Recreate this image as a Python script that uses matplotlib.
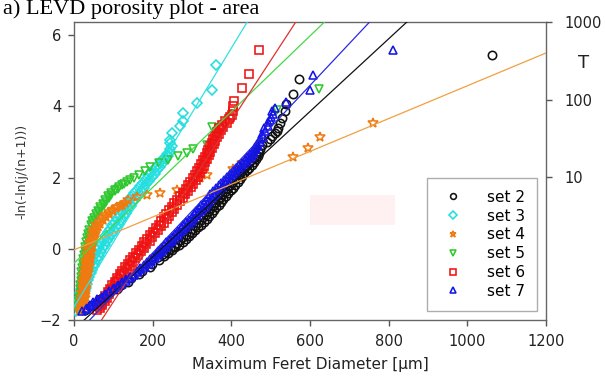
import numpy as np
import matplotlib
matplotlib.use("Agg")
import matplotlib.pyplot as plt
from matplotlib.patches import Rectangle

# ---- data (Gumbel plot: points + fitted line per set) ----
labels = ["set 2", "set 3", "set 4", "set 5", "set 6", "set 7"]

# (x, y) points
set2_pts = [(28, -1.72), (40, -1.62), (55, -1.52), (66, -1.42), (82, -1.32), (92, -1.22),
            (110, -1.12), (120, -1.02), (138, -0.92), (146, -0.82), (166, -0.72), (172, -0.62),
            (192, -0.52), (198, -0.42), (216, -0.32), (214, -0.24), (228, -0.20), (226, -0.16),
            (238, -0.12), (234, -0.08), (248, -0.04), (244, 0.0), (258, 0.04), (253, 0.08),
            (266, 0.12), (262, 0.16), (276, 0.20), (270, 0.24), (284, 0.28), (278, 0.32),
            (292, 0.36), (286, 0.40), (300, 0.44), (294, 0.48), (308, 0.52), (301, 0.56),
            (315, 0.60), (308, 0.64), (323, 0.68), (315, 0.72), (330, 0.76), (322, 0.80),
            (337, 0.84), (329, 0.88), (343, 0.92), (335, 0.96), (350, 1.00), (341, 1.04),
            (356, 1.08), (347, 1.12), (362, 1.16), (353, 1.20), (368, 1.24), (359, 1.28),
            (374, 1.32), (365, 1.36), (380, 1.40), (371, 1.44), (386, 1.48), (377, 1.52),
            (392, 1.56), (383, 1.60), (398, 1.64), (389, 1.68), (404, 1.72), (395, 1.76),
            (410, 1.80), (401, 1.84), (416, 1.88), (407, 1.92), (421, 1.96), (413, 2.00),
            (427, 2.04), (419, 2.08), (433, 2.12), (425, 2.16), (440, 2.20), (431, 2.24),
            (446, 2.28), (437, 2.32), (452, 2.36), (444, 2.40), (458, 2.44), (450, 2.48),
            (463, 2.52), (457, 2.56), (467, 2.60), (463, 2.64), (470, 2.68), (468, 2.74),
            (473, 2.80), (478, 2.92), (490, 3.0), (498, 3.08), (503, 3.16), (510, 3.25),
            (516, 3.3), (519, 3.4), (524, 3.52), (529, 3.67), (536, 3.87), (539, 4.07),
            (557, 4.36), (572, 4.76), (1063, 5.44)]

set3_pts = [(6, -1.74), (14, -1.69), (9, -1.64), (17, -1.59), (10, -1.54), (19, -1.49),
            (12, -1.44), (22, -1.39), (14, -1.34), (24, -1.29), (16, -1.24), (27, -1.19),
            (18, -1.14), (30, -1.09), (21, -1.04), (32, -0.99), (24, -0.94), (35, -0.89),
            (27, -0.84), (38, -0.79), (30, -0.74), (42, -0.69), (34, -0.64), (46, -0.59),
            (37, -0.54), (50, -0.49), (41, -0.44), (54, -0.39), (45, -0.34), (58, -0.29),
            (49, -0.24), (63, -0.19), (54, -0.14), (68, -0.09), (59, -0.04), (73, 0.01),
            (64, 0.06), (78, 0.11), (69, 0.16), (84, 0.21), (75, 0.26), (90, 0.31), (80, 0.36),
            (96, 0.41), (86, 0.46), (102, 0.51), (91, 0.56), (107, 0.61), (97, 0.66),
            (114, 0.71), (104, 0.76), (120, 0.81), (110, 0.86), (126, 0.91), (116, 0.96),
            (132, 1.01), (122, 1.06), (138, 1.11), (128, 1.16), (144, 1.21), (134, 1.26),
            (150, 1.31), (140, 1.36), (156, 1.41), (146, 1.46), (163, 1.51), (153, 1.56),
            (170, 1.61), (161, 1.66), (177, 1.71), (168, 1.76), (184, 1.81), (175, 1.86),
            (191, 1.91), (182, 1.96), (198, 2.01), (189, 2.06), (205, 2.11), (197, 2.16),
            (212, 2.21), (205, 2.26), (219, 2.31), (213, 2.36), (226, 2.41), (220, 2.46),
            (233, 2.51), (228, 2.56), (240, 2.61), (236, 2.66), (245, 2.72), (243, 2.80),
            (248, 2.88), (244, 2.97), (244, 3.06), (249, 3.25), (270, 3.45), (277, 3.6),
            (277, 3.81), (312, 4.1), (351, 4.46), (360, 5.16)]

set4_pts = [(16, -1.74), (22, -1.69), (16, -1.64), (24, -1.59), (18, -1.54), (25, -1.49),
            (19, -1.44), (27, -1.39), (20, -1.34), (28, -1.29), (21, -1.24), (29, -1.19),
            (22, -1.14), (30, -1.09), (23, -1.04), (31, -0.99), (24, -0.94), (32, -0.89),
            (25, -0.84), (33, -0.79), (26, -0.74), (35, -0.69), (28, -0.64), (36, -0.59),
            (29, -0.54), (37, -0.49), (30, -0.44), (38, -0.39), (31, -0.34), (40, -0.29),
            (33, -0.24), (41, -0.19), (34, -0.14), (43, -0.09), (36, -0.04), (44, 0.01),
            (38, 0.06), (46, 0.11), (40, 0.16), (48, 0.21), (42, 0.26), (50, 0.31), (45, 0.36),
            (53, 0.41), (48, 0.46), (57, 0.51), (52, 0.56), (62, 0.61), (57, 0.66), (67, 0.71),
            (63, 0.76), (74, 0.81), (70, 0.86), (82, 0.90), (78, 0.94), (90, 0.98), (88, 1.02),
            (99, 1.06), (97, 1.10), (108, 1.14), (110, 1.18), (118, 1.21), (122, 1.24),
            (130, 1.30), (138, 1.37), (160, 1.45), (185, 1.51), (219, 1.58), (261, 1.65),
            (299, 1.84), (320, 1.98), (337, 2.07), (405, 2.23), (426, 2.4), (557, 2.58),
            (595, 2.83), (626, 3.14), (760, 3.52)]

set5_pts = [(10, -1.74), (15, -1.68), (11, -1.62), (16, -1.56), (12, -1.50), (17, -1.44),
            (13, -1.38), (18, -1.32), (14, -1.26), (19, -1.20), (15, -1.14), (20, -1.08),
            (16, -1.02), (21, -0.96), (17, -0.90), (22, -0.84), (18, -0.78), (23, -0.72),
            (19, -0.66), (25, -0.60), (21, -0.54), (26, -0.48), (22, -0.42), (28, -0.36),
            (24, -0.30), (30, -0.24), (26, -0.18), (31, -0.12), (27, -0.06), (33, 0.0),
            (29, 0.06), (35, 0.12), (31, 0.18), (37, 0.24), (33, 0.30), (39, 0.36), (36, 0.42),
            (42, 0.48), (39, 0.54), (45, 0.60), (42, 0.66), (49, 0.72), (46, 0.77), (53, 0.82),
            (51, 0.87), (58, 0.92), (56, 0.97), (63, 1.02), (61, 1.07), (69, 1.12), (67, 1.17),
            (75, 1.22), (73, 1.27), (81, 1.32), (79, 1.37), (88, 1.42), (86, 1.47), (95, 1.52),
            (94, 1.57), (103, 1.61), (104, 1.66), (112, 1.69), (115, 1.74), (122, 1.78),
            (127, 1.83), (135, 1.88), (142, 1.94), (152, 2.0), (165, 2.08), (180, 2.18),
            (193, 2.3), (215, 2.4), (240, 2.5), (265, 2.6), (287, 2.69), (303, 2.8), (338, 2.92),
            (351, 3.42), (516, 3.9), (623, 4.49)]

set6_pts = [(58, -1.72), (66, -1.67), (64, -1.62), (72, -1.57), (70, -1.52), (78, -1.47),
            (75, -1.42), (83, -1.37), (80, -1.32), (89, -1.27), (86, -1.22), (95, -1.17),
            (91, -1.12), (101, -1.07), (97, -1.02), (106, -0.97), (103, -0.92), (113, -0.87),
            (109, -0.82), (120, -0.77), (116, -0.72), (128, -0.67), (123, -0.62), (135, -0.57),
            (130, -0.52), (142, -0.47), (137, -0.42), (148, -0.37), (143, -0.32), (155, -0.27),
            (151, -0.22), (162, -0.17), (158, -0.12), (170, -0.07), (165, -0.02), (177, 0.03),
            (172, 0.08), (184, 0.13), (179, 0.18), (192, 0.23), (186, 0.28), (199, 0.33),
            (193, 0.38), (207, 0.43), (200, 0.48), (214, 0.53), (208, 0.58), (221, 0.63),
            (215, 0.68), (228, 0.73), (222, 0.78), (236, 0.83), (229, 0.88), (242, 0.93),
            (235, 0.98), (249, 1.03), (241, 1.08), (255, 1.13), (248, 1.18), (262, 1.23),
            (255, 1.28), (269, 1.33), (262, 1.38), (276, 1.43), (270, 1.48), (283, 1.53),
            (277, 1.58), (290, 1.63), (284, 1.68), (297, 1.73), (290, 1.78), (303, 1.83),
            (296, 1.88), (309, 1.93), (302, 1.98), (315, 2.03), (308, 2.08), (320, 2.13),
            (313, 2.18), (325, 2.23), (318, 2.28), (330, 2.33), (323, 2.38), (334, 2.43),
            (328, 2.48), (339, 2.53), (333, 2.58), (343, 2.63), (337, 2.68), (347, 2.73),
            (341, 2.78), (351, 2.83), (345, 2.88), (355, 2.93), (350, 2.98), (359, 3.03),
            (354, 3.08), (363, 3.13), (358, 3.18), (368, 3.23), (363, 3.28), (373, 3.33),
            (369, 3.38), (380, 3.43), (376, 3.48), (388, 3.53), (385, 3.58), (395, 3.64),
            (396, 3.70), (401, 3.76), (404, 3.88), (404, 4.0), (406, 4.14), (427, 4.52),
            (445, 4.91), (470, 5.58)]

set7_pts = [(20, -1.74), (30, -1.70), (33, -1.66), (42, -1.62), (40, -1.58), (50, -1.54),
            (49, -1.50), (58, -1.46), (58, -1.42), (69, -1.38), (70, -1.34), (80, -1.30),
            (78, -1.26), (90, -1.22), (90, -1.18), (100, -1.14), (101, -1.10), (111, -1.06),
            (112, -1.02), (122, -0.98), (123, -0.94), (133, -0.90), (133, -0.86), (143, -0.82),
            (142, -0.78), (153, -0.74), (152, -0.70), (162, -0.66), (160, -0.62), (171, -0.58),
            (169, -0.54), (180, -0.50), (177, -0.46), (190, -0.42), (185, -0.38), (197, -0.34),
            (193, -0.30), (206, -0.26), (200, -0.22), (213, -0.18), (208, -0.14), (220, -0.10),
            (214, -0.06), (227, -0.02), (220, 0.02), (233, 0.06), (228, 0.10), (241, 0.14),
            (234, 0.18), (248, 0.22), (242, 0.26), (256, 0.30), (250, 0.34), (264, 0.38),
            (256, 0.42), (270, 0.46), (264, 0.50), (278, 0.54), (271, 0.58), (284, 0.62),
            (278, 0.66), (292, 0.70), (285, 0.74), (300, 0.78), (292, 0.82), (306, 0.86),
            (299, 0.90), (313, 0.94), (306, 0.98), (319, 1.02), (310, 1.06), (325, 1.10),
            (317, 1.14), (332, 1.18), (323, 1.22), (338, 1.26), (330, 1.30), (344, 1.34),
            (335, 1.38), (350, 1.42), (341, 1.46), (356, 1.50), (347, 1.54), (362, 1.58),
            (354, 1.62), (369, 1.66), (361, 1.70), (376, 1.74), (368, 1.78), (383, 1.82),
            (374, 1.86), (390, 1.90), (382, 1.94), (398, 1.98), (389, 2.02), (405, 2.06),
            (396, 2.10), (412, 2.14), (403, 2.18), (419, 2.22), (412, 2.26), (426, 2.30),
            (419, 2.34), (434, 2.38), (427, 2.42), (441, 2.46), (434, 2.50), (447, 2.54),
            (441, 2.58), (452, 2.62), (448, 2.66), (458, 2.70), (454, 2.75), (463, 2.80),
            (459, 2.85), (468, 2.90), (466, 2.95), (474, 3.00), (472, 3.08), (480, 3.15),
            (478, 3.22), (486, 3.30), (484, 3.38), (492, 3.46), (492, 3.55), (498, 3.62),
            (500, 3.70), (505, 3.80), (503, 3.88), (511, 3.96), (540, 4.12), (600, 4.46),
            (608, 4.88), (811, 5.58)]

# fitted Gumbel lines: y = (x - loc) / scale
fit_loc = [222, 90, 6.5, 38, 188, 210]
fit_scale = [98, 55, 217, 94, 59, 85]

right_ticks = [10, 100, 1000]

all_pts = [set2_pts, set3_pts, set4_pts, set5_pts, set6_pts, set7_pts]
markers = ["o", "D", "*", "v", "s", "^"]
pt_colors = ["#111111", "#22dede", "#f07a10", "#2ec82e", "#ee1111", "#1515e6"]
line_colors = ["#111111", "#33e0e0", "#f0a040", "#44d844", "#e03030", "#2a2ae0"]
msizes = [6.0, 5.4, 7.2, 6.0, 5.6, 6.0]
zorders = [2, 3, 4, 3.5, 5, 6]

fig = plt.figure(figsize=(6.05, 3.79), dpi=100)
ax = fig.add_axes([74 / 605, 59 / 379, 472 / 605, 298 / 379])

# faint pink patch visible in the reference
ax.add_patch(Rectangle((600, 0.67), 216, 0.84, facecolor="#fff1f1", edgecolor="none", zorder=0))

for i in range(len(labels)):
    px, py = zip(*all_pts[i])
    ax.plot(px, py, linestyle="none", marker=markers[i], markersize=msizes[i],
            markerfacecolor="none", markeredgecolor=pt_colors[i], markeredgewidth=1.15,
            label=labels[i], zorder=zorders[i])
xline = np.array([0, 1200])
for i in range(len(labels)):
    ax.plot(xline, (xline - fit_loc[i]) / fit_scale[i], color=line_colors[i], lw=0.9, zorder=7)

ax.set_xlim(0, 1200)
ax.set_ylim(-2, 6.37)
ax.set_xticks([0, 200, 400, 600, 800, 1000, 1200])
ax.set_yticks([-2, 0, 2, 4, 6])
ax.tick_params(direction="out", length=4, width=1, color="#555555", labelsize=10.5,
               labelcolor="#222222")
ax.tick_params(axis="y", pad=5)
ax.tick_params(axis="x", pad=6)
for s in ax.spines.values():
    s.set_color("#666666")
    s.set_linewidth(1.0)

ax.set_xlabel("Maximum Feret Diameter [\u03bcm]", fontsize=11, color="#222222", labelpad=6)
ax.set_ylabel("-ln(-ln(j/(n+1)))", fontsize=9, color="#333333", labelpad=8)

ax2 = ax.twinx()
ax2.set_yscale("log")
ax2.set_ylim(0.143, 1000)
ax2.set_yticks(right_ticks)
ax2.set_yticklabels([str(t) for t in right_ticks])
ax2.yaxis.set_minor_locator(matplotlib.ticker.NullLocator())
ax2.tick_params(direction="out", length=4, width=1, color="#555555", labelsize=10.5,
                labelcolor="#222222", pad=9)
for s in ax2.spines.values():
    s.set_visible(False)

fig.text(584 / 605, 1 - 63 / 379, "T", fontsize=13, color="#222222", ha="center", va="center")
fig.text(0.005, 1 - 14 / 379, "a) LEVD porosity plot - area", fontsize=16,
         family="Liberation Serif", va="baseline", ha="left")

leg = ax.legend(loc="lower right", bbox_to_anchor=(0.981, 0.03), borderaxespad=0,
                fontsize=11, frameon=True, fancybox=False, edgecolor="#999999",
                labelspacing=0.25, handlelength=1.8, handletextpad=1.3, borderpad=0.8,
                markerscale=0.7)
leg.get_frame().set_linewidth(1.0)
leg.set_zorder(10)

fig.savefig("out.png", dpi=100)
